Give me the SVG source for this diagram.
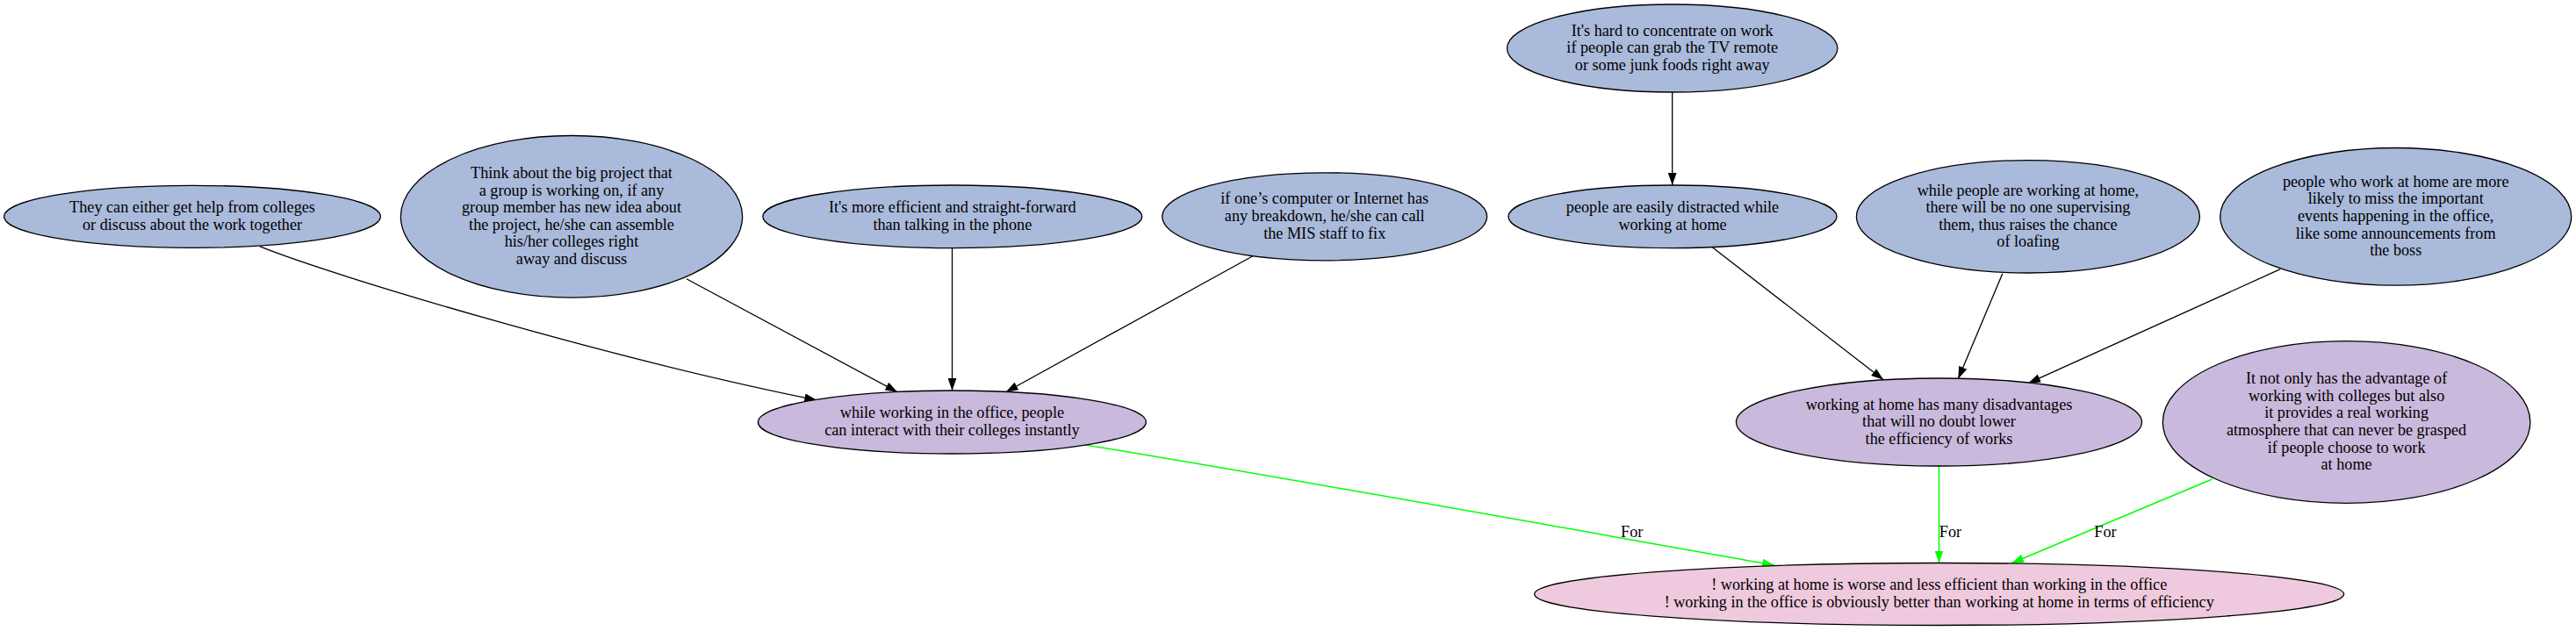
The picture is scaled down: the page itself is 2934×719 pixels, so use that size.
<svg xmlns="http://www.w3.org/2000/svg" width="2934" height="719" viewBox="0 0 2934 719">
<style>
text{font-family:"Liberation Serif","Times New Roman",serif;font-size:18.2px;fill:#000;text-anchor:middle}
.n ellipse{stroke:#000;stroke-width:1.3}
.blue ellipse{fill:#aabadb}
.purple ellipse{fill:#c9b9dc}
.pink ellipse{fill:#efc9dd}
.e{fill:none;stroke:#000;stroke-width:1.3;marker-end:url(#ab)}
.g{fill:none;stroke:#00ff00;stroke-width:1.5;marker-end:url(#ag)}
</style>
<defs>
<marker id="ab" markerUnits="userSpaceOnUse" markerWidth="14" markerHeight="10" viewBox="0 0 13 9.1" refX="13" refY="4.55" orient="auto"><path d="M0,0 L13,4.55 L0,9.1 Z" fill="#000"/></marker>
<marker id="ag" markerUnits="userSpaceOnUse" markerWidth="14" markerHeight="10" viewBox="0 0 13 9.1" refX="13" refY="4.55" orient="auto"><path d="M0,0 L13,4.55 L0,9.1 Z" fill="#00ff00"/></marker>
</defs>
<rect width="2934" height="719" fill="#fff"/>
<g id="connectors">
<path class="e" d="M295.6,280.7 C380,315 700,410 930.4,456"/>
<path class="e" d="M781.9,317.7 L1022.2,446.7"/>
<path class="e" d="M1084.5,282.7 L1084.5,445"/>
<path class="e" d="M1426.9,291.7 L1145.6,446.7"/>
<path class="e" d="M1904.7,105 L1904.7,211"/>
<path class="e" d="M1950,281.5 L2145.2,432.7"/>
<path class="e" d="M2280.8,311.7 L2230.3,431.7"/>
<path class="e" d="M2597.3,306.7 L2310.1,436.7"/>
<path class="g" d="M1234.6,506.7 C1450,541.7 1800,605 2021,644"/>
<path class="g" d="M2208.5,531 L2208.5,641.5"/>
<path class="g" d="M2519.6,546 L2291,641.7"/>
<text x="1858.7" y="611.7">For</text>
<text x="2221.4" y="611.7">For</text>
<text x="2398" y="611.7">For</text>
</g>
<g id="nA" class="n blue"><ellipse cx="219" cy="246.8" rx="214.4" ry="35.5"/>
<text x="219" y="242.2">They can either get help from colleges</text>
<text x="219" y="261.8">or discuss about the work together</text></g>
<g id="nB" class="n blue"><ellipse cx="651" cy="246.8" rx="194.6" ry="92.3"/>
<text x="651" y="203">Think about the big project that</text>
<text x="651" y="222.6">a group is working on, if any</text>
<text x="651" y="242.2">group member has new idea about</text>
<text x="651" y="261.8">the project, he/she can assemble</text>
<text x="651" y="281.4">his/her colleges right</text>
<text x="651" y="301">away and discuss</text></g>
<g id="nC" class="n blue"><ellipse cx="1084.8" cy="246.8" rx="215.9" ry="35.8"/>
<text x="1084.8" y="242.2">It's more efficient and straight-forward</text>
<text x="1084.8" y="261.8">than talking in the phone</text></g>
<g id="nD" class="n blue"><ellipse cx="1508.7" cy="246.8" rx="185" ry="50"/>
<text x="1508.7" y="232.4">if one’s computer or Internet has</text>
<text x="1508.7" y="252">any breakdown, he/she can call</text>
<text x="1508.7" y="271.6">the MIS staff to fix</text></g>
<g id="nE" class="n purple"><ellipse cx="1084.4" cy="481" rx="221" ry="36"/>
<text x="1084.4" y="476.4">while working in the office, people</text>
<text x="1084.4" y="496">can interact with their colleges instantly</text></g>
<g id="nF" class="n blue"><ellipse cx="1904.7" cy="55" rx="188.2" ry="50"/>
<text x="1904.7" y="40.6">It's hard to concentrate on work</text>
<text x="1904.7" y="60.2">if people can grab the TV remote</text>
<text x="1904.7" y="79.8">or some junk foods right away</text></g>
<g id="nG" class="n blue"><ellipse cx="1905" cy="246.8" rx="187" ry="35.8"/>
<text x="1905" y="242.2">people are easily distracted while</text>
<text x="1905" y="261.8">working at home</text></g>
<g id="nH" class="n blue"><ellipse cx="2309.9" cy="246.8" rx="195.5" ry="64.2"/>
<text x="2309.9" y="222.6">while people are working at home,</text>
<text x="2309.9" y="242.2">there will be no one supervising</text>
<text x="2309.9" y="261.8">them, thus raises the chance</text>
<text x="2309.9" y="281.4">of loafing</text></g>
<g id="nI" class="n blue"><ellipse cx="2728.7" cy="246.8" rx="200" ry="78.3"/>
<text x="2728.7" y="212.8">people who work at home are more</text>
<text x="2728.7" y="232.4">likely to miss the important</text>
<text x="2728.7" y="252">events happening in the office,</text>
<text x="2728.7" y="271.6">like some announcements from</text>
<text x="2728.7" y="291.2">the boss</text></g>
<g id="nJ" class="n purple"><ellipse cx="2208.5" cy="481" rx="231" ry="50"/>
<text x="2208.5" y="466.6">working at home has many disadvantages</text>
<text x="2208.5" y="486.2">that will no doubt lower</text>
<text x="2208.5" y="505.8">the efficiency of works</text></g>
<g id="nK" class="n purple"><ellipse cx="2672.6" cy="481" rx="209.3" ry="92.3"/>
<text x="2672.6" y="437.2">It not only has the advantage of</text>
<text x="2672.6" y="456.8">working with colleges but also</text>
<text x="2672.6" y="476.4">it provides a real working</text>
<text x="2672.6" y="496">atmosphere that can never be grasped</text>
<text x="2672.6" y="515.6">if people choose to work</text>
<text x="2672.6" y="535.2">at home</text></g>
<g id="nL" class="n pink"><ellipse cx="2208.7" cy="677" rx="461" ry="35.5"/>
<text x="2208.7" y="672.4">! working at home is worse and less efficient than working in the office</text>
<text x="2208.7" y="692">! working in the office is obviously better than working at home in terms of efficiency</text></g>
</svg>
